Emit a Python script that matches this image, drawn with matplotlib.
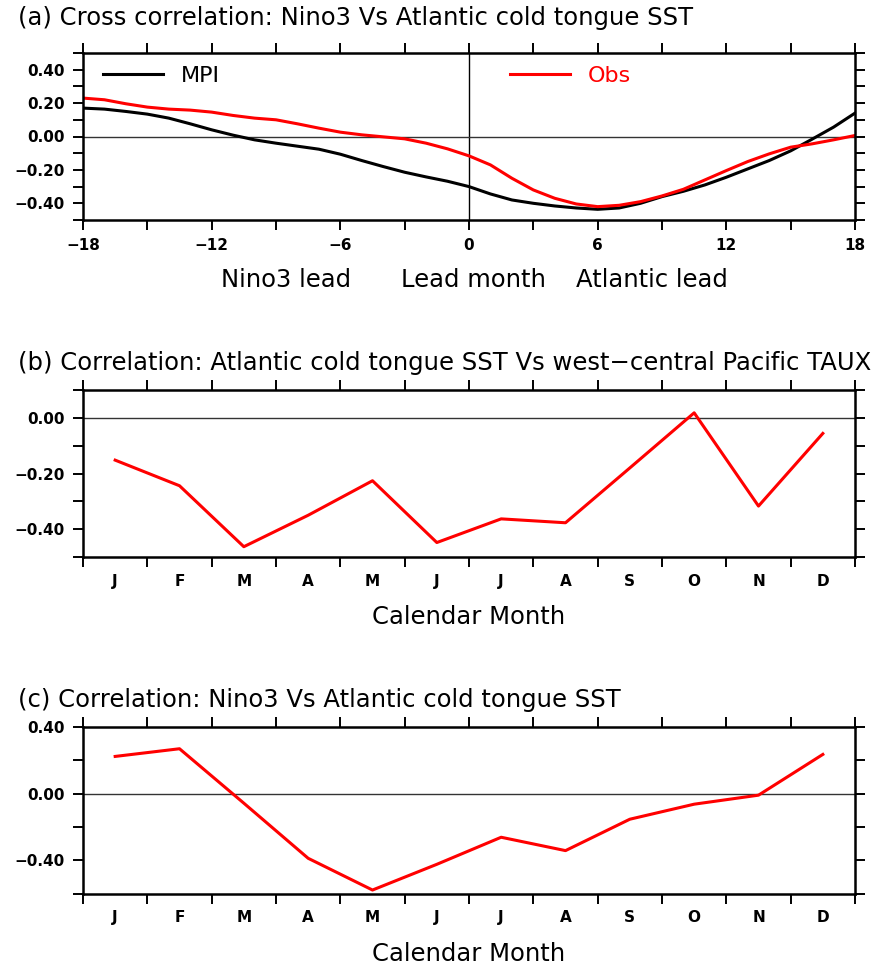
import numpy as np
import matplotlib
matplotlib.use("Agg")
import matplotlib.pyplot as plt
from matplotlib.ticker import MultipleLocator

# ---- data -------------------------------------------------------------
lags = np.arange(-18, 19)
mpi_lag = [0.17, 0.164, 0.15, 0.134, 0.11, 0.076, 0.04, 0.008, -0.02, -0.04,
           -0.058, -0.076, -0.106, -0.144, -0.18, -0.214, -0.242, -0.268, -0.30,
           -0.344, -0.38, -0.40, -0.416, -0.428, -0.436, -0.428, -0.40, -0.36,
           -0.328, -0.29, -0.244, -0.194, -0.144, -0.086, -0.016, 0.056, 0.14]
obs_lag = [0.23, 0.22, 0.196, 0.176, 0.164, 0.158, 0.146, 0.126, 0.11, 0.10,
           0.076, 0.05, 0.026, 0.01, -0.002, -0.014, -0.04, -0.074, -0.116,
           -0.17, -0.25, -0.32, -0.37, -0.404, -0.42, -0.412, -0.39, -0.356,
           -0.316, -0.26, -0.204, -0.15, -0.104, -0.064, -0.044, -0.02, 0.006]

months = ["J", "F", "M", "A", "M", "J", "J", "A", "S", "O", "N", "D"]
sst_taux = [-0.152, -0.244, -0.463, -0.35, -0.226, -0.448, -0.363, -0.377,
            -0.18, 0.018, -0.317, -0.056]
nino3_sst = [0.222, 0.268, -0.058, -0.388, -0.578, -0.424, -0.262, -0.342,
             -0.154, -0.064, -0.01, 0.234]

titles = ["(a) Cross correlation: Nino3 Vs Atlantic cold tongue SST",
          "(b) Correlation: Atlantic cold tongue SST Vs west\u2212central Pacific TAUX",
          "(c) Correlation: Nino3 Vs Atlantic cold tongue SST"]

plt.rcParams['font.family'] = 'DejaVu Sans'
W, H = 893, 968
fig = plt.figure(figsize=(W / 100, H / 100), dpi=100)


def frac(x0, y0, x1, y1):
    return [x0 / W, 1 - y1 / H, (x1 - x0) / W, (y1 - y0) / H]


def fmt(v):
    return "0.00" if abs(v) < 1e-9 else f"{v:.2f}".replace('-', '\u2212')


def style(ax):
    for s in ax.spines.values():
        s.set_linewidth(1.8)
    ax.tick_params(which='both', direction='out', length=7, width=1.4,
                   top=True, right=True, labelsize=11, pad=6)
    for lab in ax.get_xticklabels() + ax.get_yticklabels():
        lab.set_fontweight('bold')
    ax.axhline(0, color='#333333', lw=1.0, zorder=1)


# ---- panel a ----------------------------------------------------------
ax1 = fig.add_axes(frac(83, 53, 855, 220))
l_mpi, = ax1.plot(lags, mpi_lag, color='black', lw=2.2)
l_obs, = ax1.plot(lags, obs_lag, color='red', lw=2.2)
ax1.axvline(0, color='black', lw=1.0, zorder=1)
ax1.set_xlim(-18, 18)
ax1.set_ylim(-0.5, 0.5)
ax1.xaxis.set_minor_locator(MultipleLocator(3))
ax1.yaxis.set_minor_locator(MultipleLocator(0.1))
xt = np.arange(-18, 19, 6)
ax1.set_xticks(xt)
ax1.set_xticklabels([str(v).replace('-', '\u2212') for v in xt])
yt = np.arange(-0.4, 0.41, 0.2)
ax1.set_yticks(yt)
ax1.set_yticklabels([fmt(v) for v in yt])
style(ax1)
leg_kw = dict(loc='center left', frameon=False, fontsize=16, handlelength=2.7,
              handletextpad=0.8, borderpad=0, borderaxespad=0)
leg1 = ax1.legend([l_mpi], ['MPI'], bbox_to_anchor=(0.026, 0.862), **leg_kw)
ax1.add_artist(leg1)
leg2 = ax1.legend([l_obs], ['Obs'], bbox_to_anchor=(0.553, 0.862), **leg_kw)
leg2.get_texts()[0].set_color('red')
for txt, xc in [("Nino3 lead", 286), ("Lead month", 473), ("Atlantic lead", 652)]:
    fig.text(xc / W, 1 - 280 / H, txt, ha='center', va='center', fontsize=17.5)


# ---- panels b, c ------------------------------------------------------
def month_panel(box, vals, ylim, ystep, ylab_step, xlabel_y):
    ax = fig.add_axes(box)
    x = np.arange(12) + 0.5
    ax.plot(x, vals, color='red', lw=2.2)
    ax.set_xlim(0, 12)
    ax.set_ylim(*ylim)
    ax.set_xticks(np.arange(13))
    ax.set_xticklabels([])
    ax.set_xticks(x, minor=True)
    ax.set_xticklabels(months, minor=True)
    ax.yaxis.set_minor_locator(MultipleLocator(ystep))
    yl = np.arange(np.ceil(ylim[0] / ylab_step - 1e-9) * ylab_step, ylim[1] + 1e-9, ylab_step)
    ax.set_yticks(yl)
    ax.set_yticklabels([fmt(v) for v in yl])
    style(ax)
    ax.tick_params(axis='x', which='minor', length=0, pad=12, top=False)
    ax.set_xlabel("Calendar Month", fontsize=17.5, va='center')
    ax.xaxis.set_label_coords(0.5, xlabel_y)
    for lab in ax.get_xticklabels(minor=True):
        lab.set_fontweight('bold')
    return ax


ax2 = month_panel(frac(83, 390, 855, 557), sst_taux, (-0.5, 0.1), 0.1, 0.2, -0.36)
ax3 = month_panel(frac(83, 726.7, 855, 893.7), nino3_sst, (-0.6, 0.4), 0.2, 0.4, -0.36)

for t, yc in zip(titles, [18, 363, 700]):
    fig.text(18 / W, 1 - yc / H, t, ha='left', va='center', fontsize=17.5)

fig.savefig("out.png", dpi=100)
